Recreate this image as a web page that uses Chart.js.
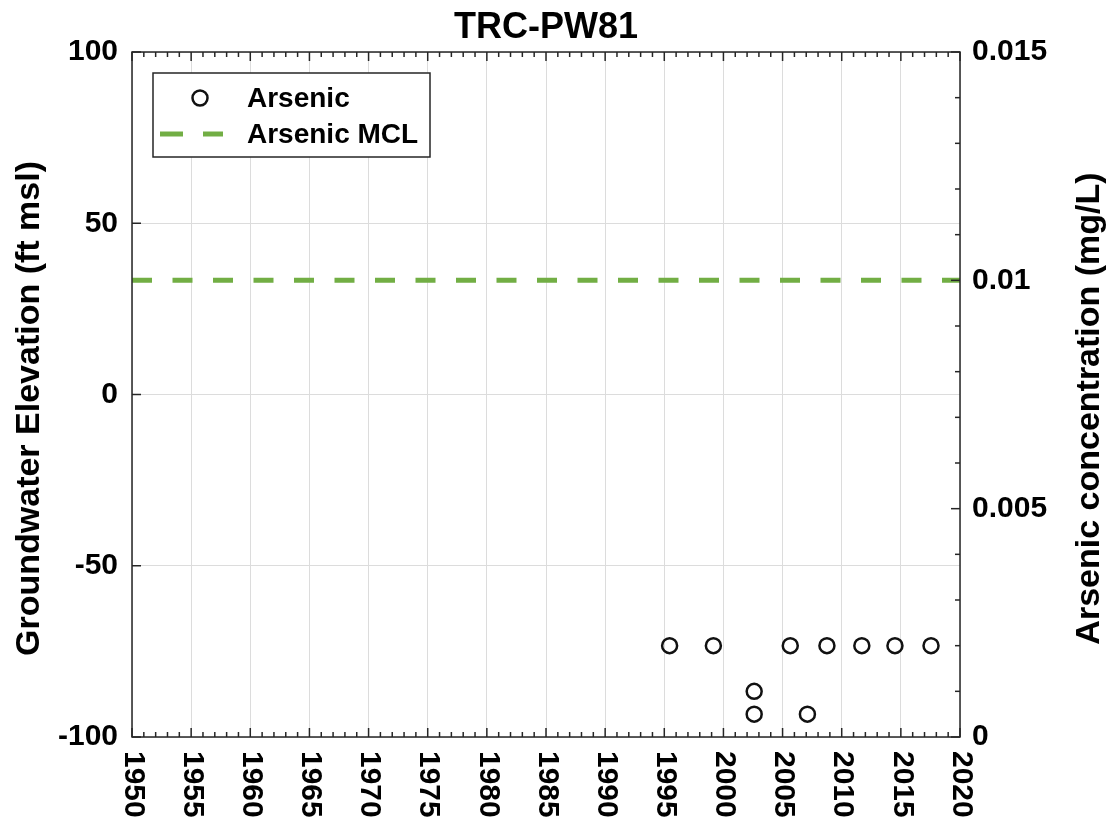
<!DOCTYPE html>
<html>
<head>
<meta charset="utf-8">
<script src="https://cdn.jsdelivr.net/npm/chart.js@4/dist/chart.umd.min.js"></script>
<style>
  html, body { margin: 0; padding: 0; background: #fff; }
  canvas { display: block; }
</style>
</head>
<body>
<canvas id="chart" width="1114" height="823"></canvas>
<script>
// sample dates (decimal years) and arsenic results, mg/L
const sampleYears = [1995.45, 1999.15, 2002.6, 2002.6, 2005.65, 2007.1, 2008.75, 2011.7, 2014.5, 2017.55];
const arsenic = [0.002, 0.002, 0.001, 0.0005, 0.002, 0.0005, 0.002, 0.002, 0.002, 0.002];

// MCL line
const mclYears = [1950, 2020];
const mclValue = [0.01, 0.01];

const xTickYears = [1950, 1955, 1960, 1965, 1970, 1975, 1980, 1985, 1990, 1995, 2000, 2005, 2010, 2015, 2020];
const elevTicks = [-100, -50, 0, 50, 100];
const concTicks = [0, 0.005, 0.01, 0.015];

const FONT = '"Liberation Sans", Arial, Helvetica, sans-serif';
const MCL_GREEN = '#72ae44';

function seg(ctx, x1, y1, x2, y2) {
  ctx.beginPath();
  ctx.moveTo(x1, y1);
  ctx.lineTo(x2, y2);
  ctx.stroke();
}

const decor = {
  id: 'decor',
  afterDraw(chart) {
    const { ctx, chartArea: a, scales } = chart;
    const x = scales.x, yl = scales.y, yr = scales.y2;
    ctx.save();

    // box + tick marks (inward, matlab style)
    ctx.strokeStyle = '#262626';
    ctx.lineWidth = 1.5;
    ctx.strokeRect(a.left, a.top, a.right - a.left, a.bottom - a.top);
    for (let v = x.min; v <= x.max; v++) {
      const px = x.getPixelForValue(v);
      const len = v % 5 === 0 ? 9 : 5;
      seg(ctx, px, a.bottom, px, a.bottom - len);
      seg(ctx, px, a.top, px, a.top + len);
    }
    elevTicks.forEach(v => {
      const py = yl.getPixelForValue(v);
      seg(ctx, a.left, py, a.left + 9, py);
    });
    for (let k = 0; k <= 15; k++) {
      const py = yr.getPixelForValue(k / 1000);
      const len = k % 5 === 0 ? 9 : 5;
      seg(ctx, a.right, py, a.right - len, py);
    }

    // x tick labels, reading top to bottom
    ctx.fillStyle = '#000';
    ctx.font = 'bold 30px ' + FONT;
    ctx.textAlign = 'left';
    ctx.textBaseline = 'middle';
    xTickYears.forEach(v => {
      ctx.save();
      ctx.translate(x.getPixelForValue(v) + 1, a.bottom + 14);
      ctx.rotate(Math.PI / 2);
      ctx.fillText(String(v), 0, 0);
      ctx.restore();
    });

    // title
    ctx.textAlign = 'center';
    ctx.textBaseline = 'alphabetic';
    ctx.font = 'bold 36px ' + FONT;
    ctx.fillText('TRC-PW81', (a.left + a.right) / 2, 38);

    // axis titles
    const midY = (a.top + a.bottom) / 2;
    ctx.font = 'bold 34px ' + FONT;
    ctx.textBaseline = 'middle';
    ctx.save();
    ctx.translate(30, midY + 14);
    ctx.rotate(-Math.PI / 2);
    ctx.fillText('Groundwater Elevation (ft msl)', 0, 0);
    ctx.restore();
    ctx.save();
    ctx.translate(1090, midY + 14);
    ctx.rotate(-Math.PI / 2);
    ctx.fillText('Arsenic concentration (mg/L)', 0, 0);
    ctx.restore();

    // legend
    const lx = a.left + 21, ly = a.top + 21, lw = 277, lh = 84;
    ctx.fillStyle = '#fff';
    ctx.fillRect(lx, ly, lw, lh);
    ctx.strokeStyle = '#262626';
    ctx.lineWidth = 1.5;
    ctx.strokeRect(lx, ly, lw, lh);

    ctx.strokeStyle = '#111';
    ctx.lineWidth = 2.5;
    ctx.beginPath();
    ctx.arc(lx + 47, ly + 25, 7.5, 0, Math.PI * 2);
    ctx.stroke();

    ctx.strokeStyle = MCL_GREEN;
    ctx.lineWidth = 5;
    seg(ctx, lx + 7, ly + 61, lx + 30, ly + 61);
    seg(ctx, lx + 50, ly + 61, lx + 70, ly + 61);

    ctx.fillStyle = '#000';
    ctx.font = 'bold 28px ' + FONT;
    ctx.textAlign = 'left';
    ctx.fillText('Arsenic', lx + 94, ly + 26);
    ctx.fillText('Arsenic MCL', lx + 94, ly + 62);

    ctx.restore();
  }
};

new Chart(document.getElementById('chart'), {
  type: 'scatter',
  data: {
    datasets: [
      {
        label: 'Arsenic',
        data: sampleYears.map((yr, i) => ({ x: yr, y: arsenic[i] })),
        yAxisID: 'y2',
        pointStyle: 'circle',
        pointRadius: 7.5,
        pointBorderWidth: 2.5,
        borderColor: '#111',
        backgroundColor: 'rgba(0,0,0,0)',
        showLine: false
      },
      {
        label: 'Arsenic MCL',
        data: mclYears.map((yr, i) => ({ x: yr, y: mclValue[i] })),
        yAxisID: 'y2',
        showLine: true,
        pointRadius: 0,
        borderColor: MCL_GREEN,
        borderWidth: 5,
        borderDash: [20, 20.5],
        backgroundColor: MCL_GREEN
      }
    ]
  },
  options: {
    responsive: false,
    animation: false,
    devicePixelRatio: 1,
    layout: { padding: { top: 52, left: 0, right: 0, bottom: 0 } },
    plugins: {
      legend: { display: false },
      title: { display: false },
      tooltip: { enabled: false }
    },
    scales: {
      x: {
        type: 'linear',
        min: 1950,
        max: 2020,
        ticks: { display: false, stepSize: 5 },
        grid: { color: '#dcdcdc', lineWidth: 1, drawTicks: false },
        border: { display: false },
        afterFit: s => { s.height = 86; }
      },
      y: {
        position: 'left',
        min: -100,
        max: 100,
        ticks: {
          stepSize: 50,
          padding: 14,
          color: '#000',
          font: { family: FONT, size: 30, weight: 'bold' }
        },
        grid: { color: '#dcdcdc', lineWidth: 1, drawTicks: false },
        border: { display: false },
        afterFit: s => { s.width = 132; }
      },
      y2: {
        position: 'right',
        min: 0,
        max: 0.015,
        afterBuildTicks: s => { s.ticks = concTicks.map(v => ({ value: v })); },
        ticks: {
          padding: 12,
          color: '#000',
          font: { family: FONT, size: 30, weight: 'bold' },
          callback: v => String(+v.toFixed(3))
        },
        grid: { display: false, drawTicks: false },
        border: { display: false },
        afterFit: s => { s.width = 154; }
      }
    }
  },
  plugins: [decor]
});
</script>
</body>
</html>
